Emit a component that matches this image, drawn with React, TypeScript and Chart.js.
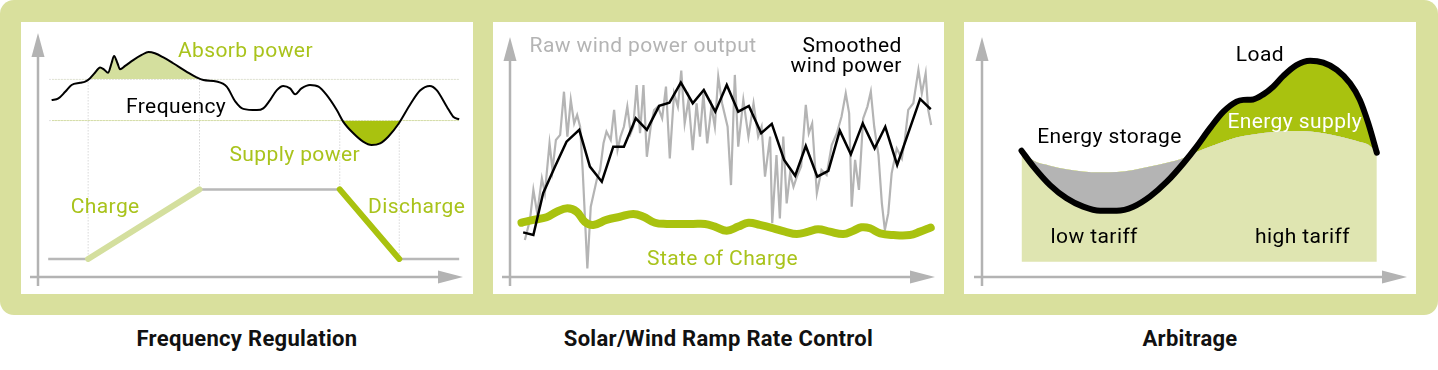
import React, { useEffect, useRef } from 'react';
import { Chart, registerables } from 'chart.js';

Chart.register(...registerables);

// ---------- Panel 1: Frequency Regulation ----------
const FREQ_X = [3.2, 4.8, 6.4, 7.9, 9.9, 11.1, 12.2, 13.4, 14.6, 15.5, 16.5, 17.3, 17.9, 18.7, 19.3, 20.5, 22.4, 24.4, 26.0, 27.5, 29.5, 31.8, 35.0, 37.3, 38.9, 42.0, 44.4, 46.4, 48.3, 51.5, 53.0, 54.6, 56.2, 57.7, 59.3, 60.5, 62.0, 64.0, 66.0, 67.9, 70.3, 71.8, 74.2, 76.5, 78.5, 80.5, 82.4, 84.8, 87.5, 89.9, 92.2, 93.8, 96.2, 97.7, 99.1];
const FREQ_Y = [72.5, 73.2, 75.9, 78.7, 79.6, 80.1, 81.4, 83.7, 85.9, 85.1, 83.7, 87.6, 90.6, 87.6, 85.1, 86.5, 88.9, 91.0, 92.2, 91.7, 90.0, 87.6, 84.1, 81.8, 80.7, 80.1, 78.0, 72.0, 68.9, 68.4, 69.1, 72.5, 76.6, 78.3, 77.3, 74.9, 77.3, 78.7, 78.0, 74.6, 68.4, 63.7, 58.9, 55.5, 54.1, 54.8, 57.5, 62.7, 70.5, 76.4, 78.3, 76.6, 69.8, 65.7, 64.6];
const THRESH_HIGH = 81.0;
const THRESH_LOW = 64.1;
const THRESH_X = [2.7, 99.3];
const POWER_X = [2.4, 11.8, 38.0, 71.0, 85.0, 99.1];
const POWER_Y = [7.4, 7.4, 35.9, 35.9, 7.4, 7.4];
const EVENT_X = [11.8, 38.0, 71.0, 85.0];
const EVENT_TOP = [THRESH_HIGH, THRESH_HIGH, THRESH_LOW, THRESH_LOW];
const EVENT_BOTTOM = [7.4, 35.9, 35.9, 7.4];

// ---------- Panel 2: Solar/Wind Ramp Rate Control ----------
const RAW_X = [3.5, 4.7, 5.5, 6.4, 7.5, 8.2, 9.3, 10.0, 10.8, 11.8, 12.7, 13.5, 14.3, 15.1, 15.8, 16.5, 17.1, 18.2, 19.0, 20.4, 21.2, 22.0, 22.7, 23.7, 24.5, 25.3, 26.0, 26.8, 27.6, 28.4, 29.0, 29.8, 30.6, 31.4, 32.2, 33.1, 33.9, 34.8, 35.8, 36.7, 37.6, 38.6, 39.5, 40.3, 41.1, 42.0, 43.0, 43.9, 44.7, 45.5, 46.4, 47.4, 48.2, 49.0, 49.9, 51.2, 52.0, 52.9, 53.7, 54.9, 56.1, 57.3, 58.4, 59.2, 60.0, 61.2, 61.7, 62.7, 63.5, 64.3, 65.1, 65.9, 66.7, 67.5, 68.5, 69.6, 70.3, 71.1, 72.2, 73.3, 74.5, 75.7, 76.9, 78.0, 79.0, 79.8, 80.4, 81.2, 82.1, 83.1, 84.1, 84.9, 85.7, 86.7, 87.5, 88.2, 89.0, 89.8, 91.0, 92.2, 92.9, 93.7, 94.9, 96.1, 96.9, 97.8, 98.4, 99.1];
const RAW_Y = [15.4, 23.8, 36.3, 26.5, 41.1, 34.9, 55.7, 44.6, 57.1, 59.2, 77.2, 58.5, 73.8, 64.0, 67.5, 62.6, 44.6, 3.6, 29.3, 40.4, 44.6, 55.7, 60.6, 57.1, 69.6, 52.9, 58.5, 62.6, 71.0, 59.9, 62.6, 80.0, 59.9, 80.0, 50.1, 62.6, 69.6, 71.0, 66.1, 79.3, 49.4, 76.5, 71.0, 86.0, 64.0, 73.8, 52.9, 72.4, 58.5, 76.5, 55.7, 71.0, 62.6, 83.5, 72.4, 62.6, 38.3, 84.2, 54.3, 73.8, 58.5, 72.4, 58.5, 62.6, 41.8, 58.5, 22.4, 50.8, 24.4, 58.5, 30.7, 43.2, 37.6, 41.8, 46.0, 71.7, 59.9, 64.0, 34.9, 44.6, 42.5, 55.0, 59.9, 66.8, 76.5, 68.2, 29.3, 48.8, 36.3, 66.1, 71.0, 77.2, 62.6, 50.8, 30.7, 19.6, 26.5, 43.2, 53.5, 49.4, 57.1, 69.6, 72.4, 86.3, 76.5, 84.9, 69.6, 63.3];
const SMOOTH_X = [3.1, 5.5, 7.8, 10.6, 13.3, 16.3, 18.8, 21.6, 24.3, 26.8, 29.6, 32.2, 35.1, 37.5, 40.2, 43.0, 45.6, 48.3, 51.0, 53.7, 56.2, 59.1, 61.6, 64.5, 67.1, 69.6, 72.3, 74.9, 77.6, 80.2, 83.0, 85.8, 88.3, 91.1, 96.5, 99.0];
const SMOOTH_Y = [18.6, 17.5, 34.9, 46.0, 56.4, 61.3, 46.0, 39.7, 54.3, 54.3, 66.1, 61.3, 71.3, 72.6, 81.0, 72.4, 77.9, 68.9, 80.0, 68.9, 71.3, 59.9, 63.8, 48.8, 42.2, 54.6, 41.8, 44.2, 61.0, 51.1, 64.0, 53.6, 62.6, 46.7, 74.2, 69.9];
const SOC_X = [2.7, 5.5, 8.6, 11.0, 13.5, 15.7, 17.6, 19.6, 22.7, 25.9, 29.0, 31.4, 34.1, 36.9, 40.0, 43.1, 45.9, 48.2, 51.0, 53.7, 56.1, 58.8, 62.0, 64.7, 67.5, 70.2, 72.5, 75.3, 78.4, 80.8, 82.7, 84.7, 87.1, 90.2, 94.1, 96.5, 99.0];
const SOC_Y = [22.6, 23.8, 24.9, 27.2, 28.6, 27.2, 23.0, 21.7, 23.8, 25.1, 26.3, 25.1, 22.6, 22.1, 22.1, 22.1, 22.1, 21.0, 19.3, 21.0, 22.6, 21.7, 20.3, 18.9, 17.9, 18.9, 19.9, 18.9, 17.9, 19.3, 20.7, 20.3, 18.2, 17.5, 17.5, 18.9, 20.6];

// ---------- Panel 3: Arbitrage ----------
const TIME_X = [9.3, 12.1, 16.0, 19.9, 23.8, 27.8, 31.7, 35.6, 39.5, 43.5, 47.4, 50.5, 53.6, 56.8, 59.9, 61.5, 63.8, 66.2, 68.5, 70.9, 74.0, 77.2, 80.3, 83.5, 86.6, 88.9, 90.9, 92.9];
const LOAD_Y = [52.6, 46.0, 38.3, 32.8, 29.3, 27.6, 27.6, 29.3, 33.5, 39.7, 47.4, 54.3, 61.9, 68.9, 73.1, 73.8, 74.0, 76.1, 79.3, 83.8, 88.3, 90.1, 89.3, 86.3, 80.7, 73.8, 64.0, 51.8];
const GENERATION_Y = [52.6, 48.5, 46.4, 44.9, 44.0, 43.6, 43.8, 44.6, 46.0, 47.6, 49.6, 52.1, 54.3, 56.4, 58.1, 58.8, 59.4, 60.0, 60.4, 60.7, 60.8, 60.6, 59.9, 58.8, 57.4, 56.3, 55.1, 51.8];
const TARIFF_FLOOR = 6.4;

const TITLES = ['Frequency Regulation', 'Solar/Wind Ramp Rate Control', 'Arbitrage'];

const GREEN = '#a9c20f';
const GREEN_TEXT = '#a9c31c';
const LIGHT_GREEN = '#d4df9e';
const PALE_GREEN = '#dfe5b1';
const GRAY = '#b4b4b4';
const AXIS_COLOR = '#b3b3b3';
const LABEL_FONT = '21px Roboto';

const zip = (xs: number[], ys: number[]) => xs.map((x, i) => ({ x, y: ys[i] }));

type Label = { text: string; x: number; y: number; color: string; align?: CanvasTextAlign };

function decorPlugin(labels: Label[]) {
  return {
    id: 'decor',
    beforeDatasetsDraw(chart: any) {
      const { ctx, chartArea: a } = chart;
      ctx.save();
      ctx.strokeStyle = AXIS_COLOR;
      ctx.fillStyle = AXIS_COLOR;
      ctx.lineWidth = 2.5;
      ctx.beginPath();
      ctx.moveTo(a.left, a.bottom + 9);
      ctx.lineTo(a.left, a.top + 20);
      ctx.stroke();
      ctx.beginPath();
      ctx.moveTo(a.left, a.top);
      ctx.lineTo(a.left - 6.5, a.top + 24);
      ctx.lineTo(a.left + 6.5, a.top + 24);
      ctx.closePath();
      ctx.fill();
      ctx.beginPath();
      ctx.moveTo(a.left - 8, a.bottom);
      ctx.lineTo(a.right - 20, a.bottom);
      ctx.stroke();
      ctx.beginPath();
      ctx.moveTo(a.right, a.bottom);
      ctx.lineTo(a.right - 25, a.bottom - 6.5);
      ctx.lineTo(a.right - 25, a.bottom + 6.5);
      ctx.closePath();
      ctx.fill();
      ctx.restore();
    },
    afterDatasetsDraw(chart: any) {
      const { ctx } = chart;
      const xs = chart.scales.x;
      const ys = chart.scales.y;
      ctx.save();
      ctx.font = LABEL_FONT;
      try { (ctx as any).letterSpacing = '0.4px'; } catch (e) { /* ignore */ }
      ctx.textBaseline = 'alphabetic';
      for (const l of labels) {
        ctx.fillStyle = l.color;
        ctx.textAlign = l.align || 'center';
        ctx.fillText(l.text, xs.getPixelForValue(l.x), ys.getPixelForValue(l.y));
      }
      ctx.restore();
    },
  };
}

function baseOptions(padding: any) {
  return {
    responsive: false,
    maintainAspectRatio: false,
    animation: false,
    events: [],
    layout: { padding },
    plugins: { legend: { display: false }, tooltip: { enabled: false }, title: { display: false } },
    elements: { point: { radius: 0 } },
    scales: {
      x: { type: 'linear', min: 0, max: 100, display: false },
      y: { type: 'linear', min: 0, max: 100, display: false },
    },
  };
}

function panel1Config() {
  const dotted = (data: any[]) => ({
    data,
    borderColor: '#c4c4c4',
    borderWidth: 1,
    borderDash: [1, 2],
    fill: false,
    clip: false,
  });
  const power = zip(POWER_X, POWER_Y);
  const datasets: any[] = [
    { data: power.slice(1, 3), borderColor: LIGHT_GREEN, borderWidth: 6, borderCapStyle: 'round', fill: false, clip: false },
    { data: power.slice(3, 5), borderColor: GREEN, borderWidth: 6, borderCapStyle: 'round', fill: false, clip: false },
    { data: power, borderColor: '#b8b8b8', borderWidth: 2.5, fill: false, clip: false },
    { data: zip(FREQ_X, FREQ_Y), borderColor: '#000', borderWidth: 2, cubicInterpolationMode: 'monotone', fill: false, clip: false },
    { data: zip(FREQ_X, FREQ_Y), borderWidth: 0, borderColor: 'transparent', cubicInterpolationMode: 'monotone', fill: { target: { value: THRESH_HIGH }, above: LIGHT_GREEN, below: 'rgba(0,0,0,0)' }, clip: false },
    { data: zip(FREQ_X, FREQ_Y), borderWidth: 0, borderColor: 'transparent', cubicInterpolationMode: 'monotone', fill: { target: { value: THRESH_LOW }, above: 'rgba(0,0,0,0)', below: GREEN }, clip: false },
    dotted(THRESH_X.map((x) => ({ x, y: THRESH_HIGH }))),
    dotted(THRESH_X.map((x) => ({ x, y: THRESH_LOW }))),
    ...EVENT_X.map((x, i) => dotted([{ x, y: EVENT_TOP[i] }, { x, y: EVENT_BOTTOM[i] }])),
  ];
  const labels: Label[] = [
    { text: 'Absorb power', x: 48.8, y: 90.0, color: GREEN_TEXT },
    { text: 'Frequency', x: 32.5, y: 67.3, color: '#000' },
    { text: 'Supply power', x: 60.4, y: 47.7, color: GREEN_TEXT },
    { text: 'Charge', x: 15.8, y: 26.1, color: GREEN_TEXT },
    { text: 'Discharge', x: 89.1, y: 26.1, color: GREEN_TEXT },
  ];
  return { type: 'line', data: { datasets }, options: baseOptions({ left: 17, top: 11, right: 10, bottom: 17 }), plugins: [decorPlugin(labels)] };
}

function panel2Config() {
  const datasets: any[] = [
    { data: zip(SMOOTH_X, SMOOTH_Y), borderColor: '#000', borderWidth: 2.5, tension: 0, fill: false, clip: false },
    { data: zip(SOC_X, SOC_Y), borderColor: GREEN, borderWidth: 8, borderCapStyle: 'round', tension: 0.4, fill: false, clip: false },
    { data: zip(RAW_X, RAW_Y), borderColor: GRAY, borderWidth: 2.2, tension: 0, fill: false, clip: false },
  ];
  const labels: Label[] = [
    { text: 'Raw wind power output', x: 31.3, y: 93.9, color: GRAY },
    { text: 'Smoothed', x: 92.2, y: 93.9, color: '#000', align: 'right' },
    { text: 'wind power', x: 92.2, y: 85.3, color: '#000', align: 'right' },
    { text: 'State of Charge', x: 50.0, y: 5.0, color: GREEN_TEXT },
  ];
  return { type: 'line', data: { datasets }, options: baseOptions({ left: 17, top: 15, right: 9, bottom: 17 }), plugins: [decorPlugin(labels)] };
}

function panel3Config() {
  const datasets: any[] = [
    { data: zip(TIME_X, LOAD_Y), borderColor: '#000', borderWidth: 6, borderCapStyle: 'round', cubicInterpolationMode: 'monotone', fill: { target: 1, above: GREEN, below: GRAY }, clip: false },
    { data: zip(TIME_X, GENERATION_Y), borderColor: 'transparent', borderWidth: 0, cubicInterpolationMode: 'monotone', fill: { target: { value: TARIFF_FLOOR }, above: PALE_GREEN, below: PALE_GREEN }, clip: false },
  ];
  const labels: Label[] = [
    { text: 'Load', x: 65.4, y: 90.1, color: '#000' },
    { text: 'Energy storage', x: 30.0, y: 55.7, color: '#000' },
    { text: 'Energy supply', x: 73.6, y: 62.2, color: '#fff' },
    { text: 'low tariff', x: 26.4, y: 14.3, color: '#000' },
    { text: 'high tariff', x: 75.4, y: 14.3, color: '#000' },
  ];
  return { type: 'line', data: { datasets }, options: baseOptions({ left: 18, top: 15, right: 9, bottom: 17 }), plugins: [decorPlugin(labels)] };
}

function ChartPanel({ left, top, width, height, make }: any) {
  const ref = useRef<HTMLCanvasElement>(null);
  useEffect(() => {
    const chart = new Chart(ref.current as HTMLCanvasElement, make());
    return () => chart.destroy();
  }, []);
  return (
    <canvas
      ref={ref}
      width={width}
      height={height}
      style={{ position: 'absolute', left, top, width, height, background: '#fff' }}
    />
  );
}

const PANELS = [
  { left: 21, width: 452, make: panel1Config },
  { left: 493, width: 451, make: panel2Config },
  { left: 964, width: 452, make: panel3Config },
];

export default function App() {
  return (
    <div style={{ position: 'absolute', left: 0, top: 0, width: 1438, height: 370, background: '#fff', overflow: 'hidden' }}>
      <div style={{ position: 'absolute', left: 0, top: 0, width: 1438, height: 315, background: '#d9e09d', borderRadius: 14 }} />
      {PANELS.map((p, i) => (
        <ChartPanel key={i} left={p.left} top={22} width={p.width} height={272} make={p.make} />
      ))}
      {PANELS.map((p, i) => (
        <div
          key={'t' + i}
          style={{
            position: 'absolute',
            left: p.left,
            top: 326,
            width: p.width,
            textAlign: 'center',
            font: 'bold 22px Roboto',
            letterSpacing: '0.3px',
            color: '#111',
            whiteSpace: 'nowrap',
          }}
        >
          {TITLES[i]}
        </div>
      ))}
    </div>
  );
}
